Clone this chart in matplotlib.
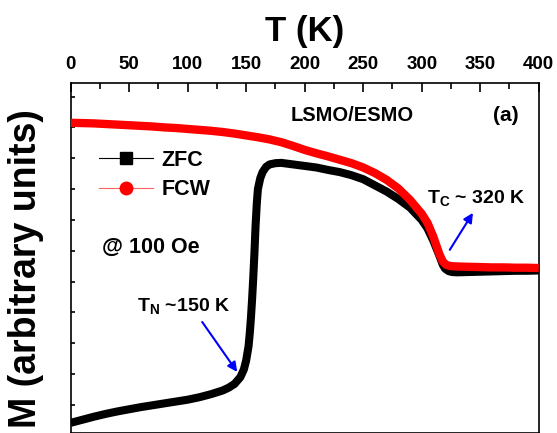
import matplotlib
matplotlib.use("Agg")
import matplotlib.pyplot as plt
from matplotlib.lines import Line2D

plt.rcParams['font.family'] = ['Liberation Sans', 'DejaVu Sans']
plt.rcParams['font.weight'] = 'bold'

# ZFC data (T in K, M in arbitrary units)
zfc_T = [0, 5, 10, 20, 30, 40, 50, 60, 70, 80, 90, 100, 110, 120, 130, 135, 140,
         145, 148, 150, 152, 153, 154, 155, 156, 157, 158, 159, 160, 162, 164, 167,
         170, 175, 180, 190, 200, 210, 220, 230, 240, 250, 260, 270, 280, 290, 300,
         305, 310, 315, 318, 320, 323, 326, 330, 340, 350, 360, 370, 380, 390, 400]
zfc_M = [0.42, 0.47, 0.52, 0.62, 0.71, 0.79, 0.86, 0.93, 0.99, 1.05, 1.11, 1.17, 1.25,
         1.35, 1.47, 1.56, 1.68, 1.90, 2.15, 2.45, 2.90, 3.30, 3.80, 4.40, 5.10, 5.90,
         6.80, 7.50, 8.00, 8.35, 8.55, 8.72, 8.80, 8.84, 8.85, 8.80, 8.75, 8.70, 8.62,
         8.55, 8.45, 8.32, 8.12, 7.92, 7.68, 7.40, 7.00, 6.72, 6.32, 5.85, 5.55, 5.42,
         5.34, 5.31, 5.30, 5.31, 5.32, 5.33, 5.34, 5.35, 5.35, 5.36]

# FCW data
fcw_T = [0, 10, 20, 30, 40, 50, 60, 70, 80, 90, 100, 110, 120, 130, 140, 150, 160,
         170, 180, 190, 200, 210, 220, 230, 240, 250, 260, 270, 280, 290, 300, 305,
         310, 315, 318, 321, 325, 330, 340, 350, 360, 370, 380, 390, 400]
fcw_M = [10.15, 10.14, 10.13, 10.11, 10.09, 10.07, 10.05, 10.03, 10.00, 9.98, 9.95,
         9.92, 9.89, 9.85, 9.80, 9.74, 9.68, 9.61, 9.52, 9.40, 9.27, 9.16, 9.06, 8.95,
         8.84, 8.70, 8.52, 8.30, 8.02, 7.65, 7.20, 6.90, 6.45, 5.90, 5.65, 5.54, 5.50,
         5.49, 5.48, 5.47, 5.46, 5.46, 5.45, 5.45, 5.44]

x_ticks = [0, 50, 100, 150, 200, 250, 300, 350, 400]

fig = plt.figure(figsize=(5.57, 4.33), dpi=100)
W, H = 557, 433
ax = fig.add_axes([70.7 / W, 0.0, (538.7 - 70.7) / W, (433 - 83) / H])

ax.plot(zfc_T, zfc_M, color='black', lw=5.8,
        solid_joinstyle='round', solid_capstyle='butt', zorder=3)
ax.plot(fcw_T, fcw_M, color='#ff0000', lw=6.0,
        solid_joinstyle='round', solid_capstyle='butt', zorder=4)

ax.set_xlim(0, 400)
ax.set_ylim(0.09, 11.44)
ax.xaxis.tick_top()
ax.xaxis.set_label_position('top')
ax.set_xticks(x_ticks)
ax.set_xticks([25, 75, 125, 175, 225, 275, 325, 375], minor=True)
ax.set_yticks(range(1, 12))
ax.set_yticklabels([])
ax.tick_params(axis='x', which='major', direction='in', length=6.5, width=1.2,
               labelsize=13.5, pad=7, top=True, bottom=False)
ax.tick_params(axis='x', which='minor', direction='in', length=4.2, width=1.2,
               top=True, bottom=False)
ax.tick_params(axis='y', which='major', direction='in', length=3.2, width=1.2,
               left=True, right=False)
for lbl in ax.get_xticklabels():
    lbl.set_fontweight('bold')
for s in ax.spines.values():
    s.set_linewidth(1.2)

ax.set_xlabel('T (K)', fontsize=25, fontweight='bold', labelpad=11)
ax.set_ylabel('M (arbitrary units)', fontsize=27, fontweight='bold')
ax.yaxis.set_label_coords(-0.057, 0.47)

handles = [Line2D([], [], color='black', lw=0.8, marker='s', ms=8),
           Line2D([], [], color='#ff6060', lw=0.8, marker='o', mfc='#ff0000',
                  mec='#ff0000', ms=9)]
ax.legend(handles, ['ZFC', 'FCW'], loc='upper left', bbox_to_anchor=(0.06, 0.81),
          frameon=False, fontsize=15.5, handlelength=2.5, handletextpad=0.4,
          labelspacing=0.4, borderpad=0, borderaxespad=0)

ax.text(187.6, 10.37, 'LSMO/ESMO', fontsize=14.5, fontweight='bold', va='center', ha='left')
ax.text(372, 10.37, '(a)', fontsize=15, fontweight='bold', va='center', ha='center')
ax.text(26.8, 6.12, '@ 100 Oe', fontsize=15.5, fontweight='bold', va='center', ha='left')
ax.text(56.7, 4.18, r'T$_\mathregular{N}$ ~150 K', fontsize=14, fontweight='bold',
        va='center', ha='left')
ax.text(304.5, 7.68, r'T$_\mathregular{C}$ ~ 320 K', fontsize=14, fontweight='bold',
        va='center', ha='left')

ax.annotate('', xy=(142.3, 2.07), xytext=(112.4, 3.69),
            arrowprops=dict(arrowstyle='-|>', color='#0000ff', lw=1.5,
                            mutation_scale=14, shrinkA=0, shrinkB=0))
ax.annotate('', xy=(343.8, 7.23), xytext=(324, 6.03),
            arrowprops=dict(arrowstyle='-|>', color='#0000ff', lw=1.5,
                            mutation_scale=14, shrinkA=0, shrinkB=0))

fig.savefig('out.png', dpi=100)
